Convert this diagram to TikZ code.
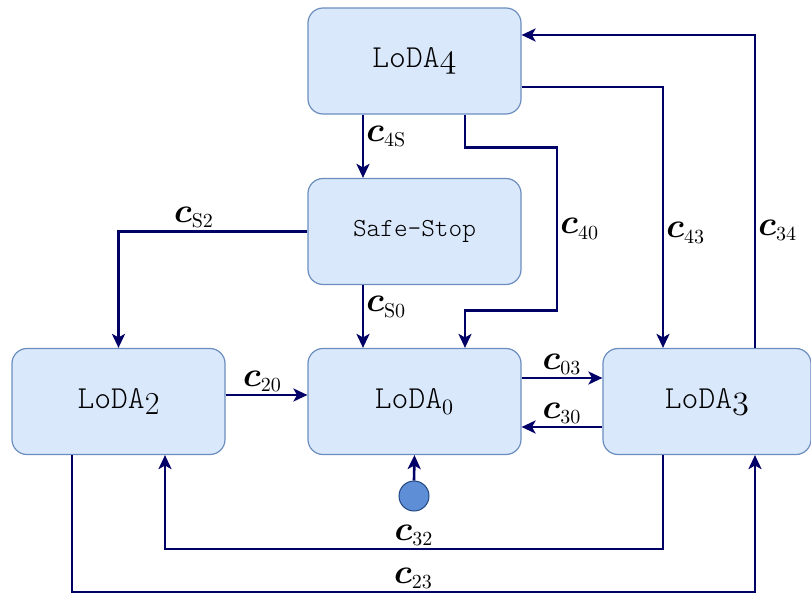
\documentclass[tikz,border=0pt]{standalone}
\usepackage{amsmath}
\usepackage{bm}
\usepackage{fontspec}
\newfontfamily\statefont{Latin Modern Mono Light}
\usetikzlibrary{arrows.meta,calc}
\DeclareMathSizes{17}{17}{10}{8}
\definecolor{boxfill}{HTML}{DAE8FC}
\definecolor{boxline}{HTML}{6C8EBF}
\definecolor{wire}{HTML}{000066}
\definecolor{dotfill}{HTML}{5E8FD6}
\definecolor{dotline}{HTML}{23487F}
\newcommand{\lab}[1]{$\bm{c}_{\mathrm{#1}}$}
% old-style figure from the math italic font
\newcommand{\osd}[1]{{\usefont{OML}{cmm}{m}{it}#1}}
\tikzset{
  stateboxx/.style={draw=boxline, fill=boxfill, line width=0.6pt, rounded corners=7.5pt,
    minimum width=106.5pt, minimum height=53pt, inner sep=0pt,
    font=\fontsize{16}{18}\selectfont\statefont},
  conn/.style={draw=wire, line width=1.3pt, -{Stealth[length=7pt,width=6.5pt,inset=1.8pt]}},
  lbl/.style={font=\fontsize{17}{19}\selectfont, inner sep=1pt}
}
\begin{document}
\begin{tikzpicture}[x=0.5pt,y=-0.5pt]
\useasboundingbox (0,0) rectangle (811,595);
% states
\node[stateboxx] (L4) at (414.5,61) {LoDA\osd{4}};
\node[stateboxx, font=\fontsize{13}{15}\selectfont\statefont] (SS) at (414.5,231.5) {Safe-Stop};
\node[stateboxx] (L2) at (118.5,401.5) {LoDA\raisebox{-0.45ex}{\rmfamily 2}};
\node[stateboxx] (L0) at (414.5,401.5) {LoDA$_0$};
\node[stateboxx, minimum width=104pt] (L3) at (707,401.5) {LoDA\osd{3}};
\node[circle, draw=dotline, fill=dotfill, line width=0.5pt, minimum size=15pt, inner sep=0pt] (D) at (414,496) {};
% transitions
\draw[conn] ($(L4.south)+(-51.5,0)$) -- node[lbl, anchor=west, pos=0.35] {\lab{4S}} ($(SS.north)+(-51.5,0)$);
\draw[conn] ($(L4.south)+(50.5,0)$) -- ++(0,33) -- ++(92,0) -- node[lbl, anchor=west, pos=0.5] {\lab{40}} ++(0,163) -- ++(-92,0) -- ($(L0.north)+(50.5,0)$);
\draw[conn] ($(L4.east)+(0,26)$) -| node[lbl, anchor=west, pos=0.78] {\lab{43}} ($(L3.north)+(-44,0)$);
\draw[conn] ($(L3.north)+(48,0)$) |- node[lbl, anchor=west, pos=0.187] {\lab{34}} ($(L4.east)+(0,-26)$);
\draw[conn] (SS.west) -| node[lbl, anchor=south, pos=0.3] {\lab{S2}} (L2.north);
\draw[conn] ($(SS.south)+(-51.5,0)$) -- node[lbl, anchor=west, pos=0.35] {\lab{S0}} ($(L0.north)+(-51.5,0)$);
\draw[conn] ($(L2.east)+(0,-6.5)$) -- node[lbl, anchor=south, pos=0.45] {\lab{20}} ($(L0.west)+(0,-6.5)$);
\draw[conn] ($(L0.east)+(0,-23.5)$) -- node[lbl, anchor=south, pos=0.5] {\lab{03}} ($(L3.west)+(0,-23.5)$);
\draw[conn] ($(L3.west)+(0,25.5)$) -- node[lbl, anchor=south, pos=0.5] {\lab{30}} ($(L0.east)+(0,25.5)$);
\draw[conn] (D.north) -- (L0.south);
\draw[conn] ($(L3.south)+(-44,0)$) -- ++(0,94) -| node[lbl, anchor=south, pos=0.25] {\lab{32}} ($(L2.south)+(46.5,0)$);
\draw[conn] ($(L2.south)+(-46.5,0)$) -- ++(0,137) -| node[lbl, anchor=south, pos=0.25] {\lab{23}} ($(L3.south)+(48,0)$);
\end{tikzpicture}
\end{document}
